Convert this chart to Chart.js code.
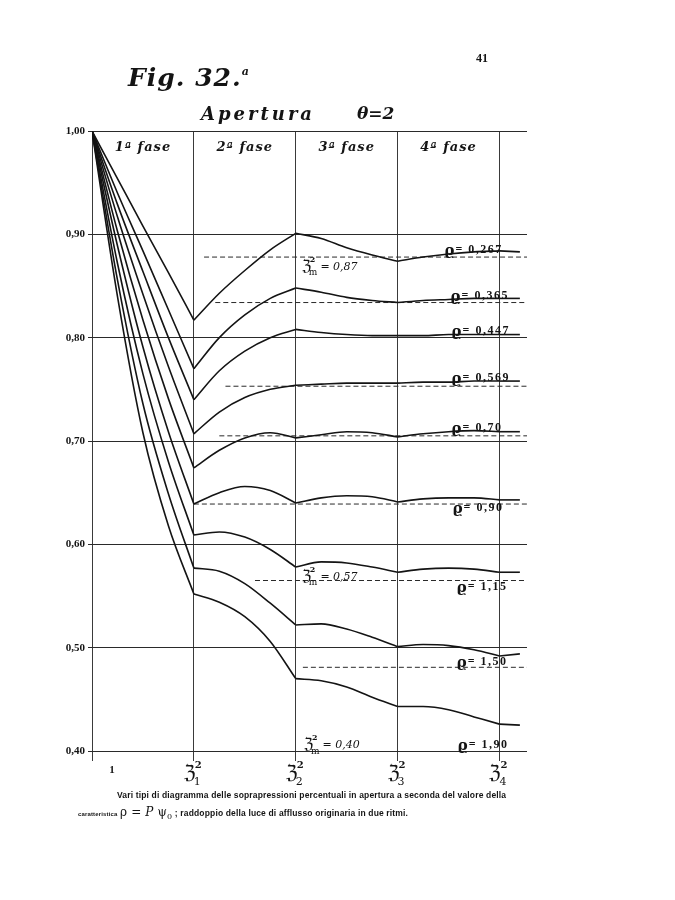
<!DOCTYPE html>
<html>
<head>
<meta charset="utf-8">
<script src="https://cdn.jsdelivr.net/npm/chart.js@4.4.1/dist/chart.umd.min.js"></script>
<style>
  html, body { margin: 0; padding: 0; background: #fff; }
  #page { position: relative; width: 675px; height: 900px; overflow: hidden; background: #fff; }
  #chart { position: absolute; left: 0; top: 0; }
  .txt { position: absolute; color: #141414; white-space: nowrap; line-height: 1; }
  #fig { left: 128px; top: 63px; font: italic bold 25px "DejaVu Serif", serif; letter-spacing: 1px; }
  #fig sup { font-size: 11px; vertical-align: 11px; }
  #sub { left: 201px; top: 103px; font: italic bold 18px "DejaVu Serif", serif; letter-spacing: 3px; }
  #theta { left: 357px; top: 103px; font: italic bold 17px "DejaVu Serif", serif; letter-spacing: 0px; }
  #num { left: 476px; top: 51px; font: bold 12px "Liberation Serif", serif; }
  #cap1 { left: 117px; top: 790px; font: bold 8.5px "Liberation Sans", sans-serif; letter-spacing: 0.15px; }
  #cap2 { left: 78px; top: 805px; font: bold 8.5px "Liberation Sans", sans-serif; letter-spacing: 0.15px; }
  #cap2 .small { font-size: 6px; }
  #cap2 .math { font: 12px "DejaVu Serif", serif; }
</style>
</head>
<body>
<div id="page">
  <canvas id="chart" width="675" height="900"></canvas>
  <div class="txt" id="num">41</div>
  <div class="txt" id="fig">Fig. 32.<sup>a</sup></div>
  <div class="txt" id="sub">Apertura</div>
  <div class="txt" id="theta">θ=2</div>
  <div class="txt" id="cap1">Vari tipi di diagramma delle soprapressioni percentuali in apertura a seconda del valore della</div>
  <div class="txt" id="cap2"><span class="small">caratteristica</span> <span class="math">ρ = <i>P</i> ψ<sub style="font-size:8px">0</sub></span> ; raddoppio della luce di afflusso originaria in due ritmi.</div>
</div>
<script>
// stations on the abscissa: 1, ζ1², ζ2², ζ3², ζ4²
const stations = [0, 1, 2, 3, 4];
const xTickSubs = ['', '1', '2', '3', '4'];
const yTicks = [0.4, 0.5, 0.6, 0.7, 0.8, 0.9, 1.0];
const phaseLabels = ['1ª fase', '2ª fase', '3ª fase', '4ª fase'];

// sample abscissae for every curve
const xs = [0, 0.25, 0.5, 0.75, 1, 1.25, 1.5, 1.75, 2, 2.25, 2.5, 2.75, 3, 3.25, 3.5, 3.75, 4, 4.2];

// curves, one per value of rho
const rho0267 = [1.000, 0.954, 0.908, 0.863, 0.817, 0.843, 0.865, 0.885, 0.901, 0.896, 0.887, 0.880, 0.874, 0.878, 0.881, 0.883, 0.884, 0.883];
const rho0365 = [1.000, 0.940, 0.884, 0.827, 0.770, 0.800, 0.822, 0.838, 0.848, 0.844, 0.839, 0.836, 0.834, 0.836, 0.837, 0.838, 0.838, 0.838];
const rho0447 = [1.000, 0.929, 0.864, 0.800, 0.740, 0.768, 0.787, 0.800, 0.808, 0.805, 0.803, 0.802, 0.802, 0.802, 0.803, 0.803, 0.803, 0.803];
const rho0569 = [1.000, 0.917, 0.842, 0.772, 0.707, 0.728, 0.742, 0.750, 0.754, 0.755, 0.756, 0.756, 0.756, 0.757, 0.757, 0.758, 0.758, 0.758];
const rho070  = [1.000, 0.903, 0.817, 0.741, 0.674, 0.691, 0.703, 0.708, 0.703, 0.706, 0.709, 0.708, 0.704, 0.707, 0.709, 0.710, 0.709, 0.709];
const rho090  = [1.000, 0.889, 0.791, 0.709, 0.639, 0.650, 0.656, 0.652, 0.640, 0.645, 0.647, 0.646, 0.641, 0.644, 0.645, 0.645, 0.643, 0.643];
const rho115  = [1.000, 0.872, 0.765, 0.680, 0.609, 0.612, 0.607, 0.595, 0.578, 0.583, 0.582, 0.578, 0.573, 0.576, 0.577, 0.576, 0.573, 0.573];
const rho150  = [1.000, 0.856, 0.736, 0.649, 0.577, 0.574, 0.562, 0.543, 0.522, 0.523, 0.518, 0.510, 0.501, 0.503, 0.502, 0.498, 0.492, 0.494];
const rho190  = [1.000, 0.840, 0.708, 0.618, 0.552, 0.544, 0.530, 0.506, 0.470, 0.468, 0.462, 0.452, 0.443, 0.443, 0.440, 0.433, 0.426, 0.425];
const rhoNames = ['0,267', '0,365', '0,447', '0,569', '0,70', '0,90', '1,15', '1,50', '1,90'];

// dashed mean levels (zeta_m^2) and where each dash line starts
const meanLevels = [0.878, 0.834, null, 0.753, 0.705, 0.639, 0.565, 0.481, null];
const meanFrom   = [1.10, 1.21, null, 1.31, 1.25, 1.00, 1.60, 2.07, null];
const zetaMeanNames = ['0,87', '0,57', '0,40'];

const curves = [rho0267, rho0365, rho0447, rho0569, rho070, rho090, rho115, rho150, rho190];
const XMAX = 4.27;
const INK = '#141414';

// each phase is a separate smooth piece so the corners at the stations stay sharp
const pieces = [[0, 1], [1, 2], [2, 3], [3, 4], [4, 4.2]];
const datasets = [];
curves.forEach(vals => {
  pieces.forEach(([a, b]) => {
    const pts = [];
    xs.forEach((x, k) => { if (x >= a - 1e-9 && x <= b + 1e-9) pts.push({ x: x, y: vals[k] }); });
    datasets.push({
      data: pts, borderColor: INK, borderWidth: 1.6, pointRadius: 0,
      cubicInterpolationMode: 'monotone', fill: false
    });
  });
});
meanLevels.forEach((lv, i) => {
  if (lv == null) return;
  datasets.push({
    data: [{ x: meanFrom[i], y: lv }, { x: XMAX, y: lv }],
    borderColor: '#2a2a2a', borderWidth: 1, borderDash: [5, 3], pointRadius: 0, fill: false
  });
});

// where the text labels sit (data units: left edge, baseline)
const rhoSpots = [[3.46, 0.881], [3.52, 0.836], [3.53, 0.803], [3.53, 0.757], [3.53, 0.709],
                  [3.54, 0.631], [3.58, 0.555], [3.58, 0.482], [3.59, 0.402]];
const zetaSpots = [[2.06, 0.865], [2.06, 0.565], [2.08, 0.402]];

function drawZeta(ctx, px, py, sub, size) {
  ctx.font = size + 'px "DejaVu Serif", serif';
  ctx.textAlign = 'left';
  ctx.textBaseline = 'alphabetic';
  ctx.fillText('ℨ', px, py);
  const w = ctx.measureText('ℨ').width;
  ctx.font = 'bold ' + Math.round(size * 0.5) + 'px "DejaVu Serif", serif';
  ctx.fillText('2', px + w - 1, py - size * 0.55);
  ctx.font = Math.round(size * 0.55) + 'px "DejaVu Serif", serif';
  ctx.fillText(sub, px + w - 2, py + size * 0.3);
  return w + ctx.measureText(sub).width;
}

const annotations = {
  id: 'annotations',
  afterDatasetsDraw(chart) {
    const { ctx, scales: { x, y } } = chart;
    ctx.save();
    ctx.fillStyle = INK;

    // phase headers
    ctx.font = 'italic bold 13px "DejaVu Serif", serif';
    ctx.textAlign = 'center';
    ctx.textBaseline = 'middle';
    ctx.letterSpacing = '1px';
    phaseLabels.forEach((t, i) => {
      ctx.fillText(t, x.getPixelForValue(stations[i] + 0.5), y.getPixelForValue(0.984));
    });

    // rho labels
    rhoNames.forEach((t, i) => {
      const px = x.getPixelForValue(rhoSpots[i][0]);
      const py = y.getPixelForValue(rhoSpots[i][1]);
      ctx.textAlign = 'left';
      ctx.textBaseline = 'alphabetic';
      ctx.letterSpacing = '0px';
      ctx.font = 'bold 15px "DejaVu Serif", serif';
      ctx.fillText('ϱ', px, py + 1);
      const w = ctx.measureText('ϱ').width;
      ctx.letterSpacing = '1.5px';
      ctx.font = 'bold 12px "Liberation Serif", serif';
      ctx.fillText('= ' + t, px + w + 1, py - 1);
    });
    ctx.letterSpacing = '0px';

    // zeta_m^2 labels
    zetaMeanNames.forEach((t, i) => {
      const px = x.getPixelForValue(zetaSpots[i][0]);
      const py = y.getPixelForValue(zetaSpots[i][1]);
      const w = drawZeta(ctx, px, py, 'm', 16);
      ctx.font = 'italic 11px "DejaVu Serif", serif';
      ctx.textAlign = 'left';
      ctx.fillText('= ' + t, px + w + 1, py - 1);
    });

    // abscissa labels
    const by = y.getPixelForValue(0.4) + 28;
    stations.forEach((s, i) => {
      const px = x.getPixelForValue(s);
      if (!xTickSubs[i]) {
        ctx.font = 'bold 11px "Liberation Serif", serif';
        ctx.textAlign = 'center';
        ctx.textBaseline = 'alphabetic';
        ctx.fillText('1', px + 20, by - 6);
      } else {
        drawZeta(ctx, px - 10, by, xTickSubs[i], 20);
      }
    });
    ctx.restore();
  }
};

new Chart(document.getElementById('chart').getContext('2d'), {
  type: 'line',
  data: { datasets: datasets },
  options: {
    responsive: false,
    animation: false,
    layout: { padding: { left: 42, right: 148, top: 131, bottom: 109 } },
    plugins: { legend: { display: false }, tooltip: { enabled: false }, title: { display: false } },
    scales: {
      x: {
        type: 'linear', min: 0, max: XMAX,
        afterBuildTicks: s => { s.ticks = stations.map(v => ({ value: v })); },
        afterFit: s => { s.height = 40; },
        ticks: { display: false },
        grid: { color: '#3a3a3a', lineWidth: 1, tickLength: 10, drawTicks: true },
        border: { display: false }
      },
      y: {
        type: 'linear', min: 0.4, max: 1.0,
        afterBuildTicks: s => { s.ticks = yTicks.map(v => ({ value: v })); },
        afterFit: s => { s.width = 50; },
        ticks: {
          callback: v => v.toFixed(2).replace('.', ','),
          font: { family: 'Liberation Serif', weight: 'bold', size: 11 },
          color: INK, padding: 3
        },
        grid: { color: '#2a2a2a', lineWidth: 1, tickLength: 4 },
        border: { display: false }
      }
    }
  },
  plugins: [annotations]
});
</script>
</body>
</html>
